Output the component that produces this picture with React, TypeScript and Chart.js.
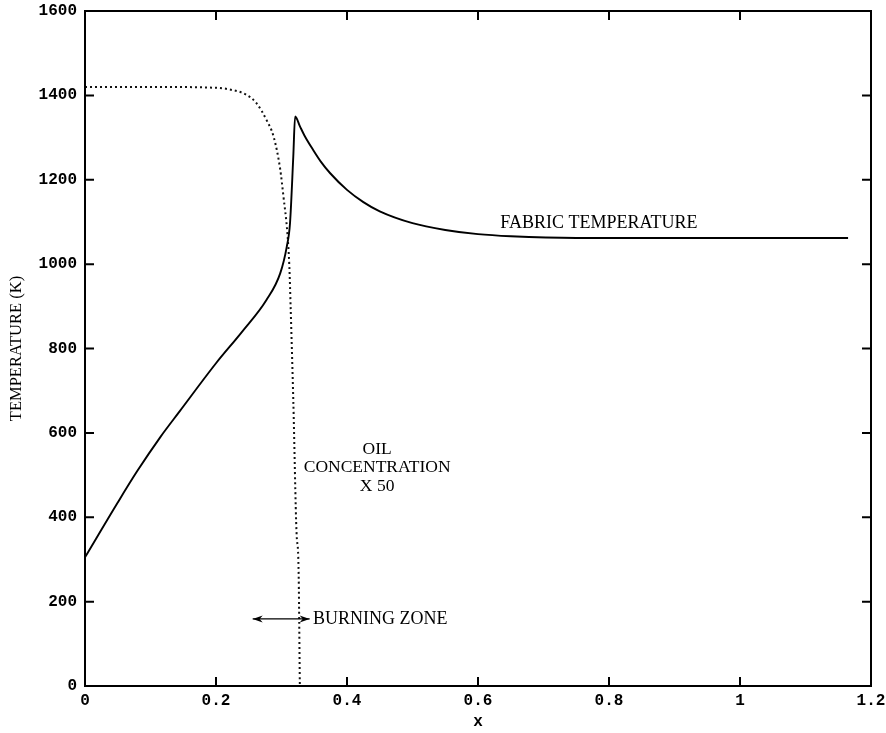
import React, { useEffect, useRef } from "react";
import { Chart, registerables } from "chart.js";

Chart.register(...registerables);

// Fabric temperature (K) vs x
const fabricX = [0, 0.05, 0.08, 0.115, 0.145, 0.2, 0.24, 0.277, 0.298, 0.308, 0.313, 0.318, 0.3208, 0.328, 0.335, 0.349, 0.36, 0.374, 0.4, 0.425, 0.45, 0.5, 0.55, 0.6, 0.65, 0.75, 0.9, 1.05, 1.165];
const fabricT = [305, 435, 510, 590, 652, 765, 840, 915, 978, 1041, 1097, 1255, 1350, 1327, 1305, 1269, 1243, 1216, 1176, 1147, 1125, 1097, 1081, 1071, 1066, 1062, 1062, 1062, 1062];

// Oil concentration x 50 vs x
const oilX = [0, 0.1, 0.2, 0.221, 0.247, 0.262, 0.277, 0.288, 0.298, 0.303, 0.309, 0.312, 0.314, 0.318, 0.323, 0.326, 0.328];
const oilT = [1420, 1420, 1418, 1414, 1401, 1381, 1342, 1302, 1225, 1160, 1073, 994, 895, 678, 362, 283, 0];

const xTicks = [0, 0.2, 0.4, 0.6, 0.8, 1, 1.2];
const xTickLabels = ["0", "0.2", "0.4", "0.6", "0.8", "1", "1.2"];
const yTicks = [0, 200, 400, 600, 800, 1000, 1200, 1400, 1600];

const xTitle = "x";
const yTitle = "TEMPERATURE (K)";

const fabricLabel = { text: "FABRIC TEMPERATURE", x: 0.634, y: 1097 };
const oilLabelLines = ["OIL", "CONCENTRATION", "X 50"];
const oilLabelX = 0.446;
const oilLabelY = [562, 519, 472];
const burningLabel = { text: "BURNING ZONE", x: 0.348, y: 159 };
const burningArrow = { x0: 0.256, x1: 0.343, y: 159 };

const SERIF = "'Liberation Serif', 'Times New Roman', serif";
const MONO = "'Liberation Mono', 'Courier New', monospace";

const framePlugin = {
  id: "frameAndNotes",
  afterDatasetsDraw(chart: any) {
    const { ctx, chartArea, scales } = chart;
    const { left, right, top, bottom } = chartArea;
    const xs = scales.x;
    const ys = scales.y;
    ctx.save();
    ctx.strokeStyle = "#000";
    ctx.lineWidth = 2;
    ctx.strokeRect(left, top, right - left, bottom - top);
    ctx.beginPath();
    const tl = 9;
    xTicks.forEach((v) => {
      if (v <= xTicks[0] || v >= xTicks[xTicks.length - 1]) return;
      const px = xs.getPixelForValue(v);
      ctx.moveTo(px, bottom);
      ctx.lineTo(px, bottom - tl);
      ctx.moveTo(px, top);
      ctx.lineTo(px, top + tl);
    });
    yTicks.forEach((v) => {
      if (v <= yTicks[0] || v >= yTicks[yTicks.length - 1]) return;
      const py = ys.getPixelForValue(v);
      ctx.moveTo(left, py);
      ctx.lineTo(left + tl, py);
      ctx.moveTo(right, py);
      ctx.lineTo(right - tl, py);
    });
    ctx.stroke();

    // annotations
    ctx.fillStyle = "#000";
    ctx.font = "18px " + SERIF;
    ctx.textBaseline = "middle";
    ctx.textAlign = "left";
    ctx.fillText(fabricLabel.text, xs.getPixelForValue(fabricLabel.x), ys.getPixelForValue(fabricLabel.y));
    ctx.fillText(burningLabel.text, xs.getPixelForValue(burningLabel.x), ys.getPixelForValue(burningLabel.y));
    ctx.font = "17.5px " + SERIF;
    ctx.textAlign = "center";
    oilLabelLines.forEach((t, i) => {
      ctx.fillText(t, xs.getPixelForValue(oilLabelX), ys.getPixelForValue(oilLabelY[i]));
    });

    // double arrow
    const ax0 = xs.getPixelForValue(burningArrow.x0);
    const ax1 = xs.getPixelForValue(burningArrow.x1);
    const ay = ys.getPixelForValue(burningArrow.y);
    ctx.lineWidth = 1.3;
    ctx.beginPath();
    ctx.moveTo(ax0, ay);
    ctx.lineTo(ax1, ay);
    ctx.stroke();
    ctx.beginPath();
    ctx.moveTo(ax0, ay);
    ctx.lineTo(ax0 + 10, ay - 3.5);
    ctx.lineTo(ax0 + 7, ay);
    ctx.lineTo(ax0 + 10, ay + 3.5);
    ctx.closePath();
    ctx.moveTo(ax1, ay);
    ctx.lineTo(ax1 - 10, ay - 3.5);
    ctx.lineTo(ax1 - 7, ay);
    ctx.lineTo(ax1 - 10, ay + 3.5);
    ctx.closePath();
    ctx.fill();
    ctx.restore();
  },
};

export default function App() {
  const canvasRef = useRef<HTMLCanvasElement | null>(null);

  useEffect(() => {
    document.body.style.margin = "0";
    const canvas = canvasRef.current;
    if (!canvas) return;
    const chart = new Chart(canvas, {
      type: "line",
      data: {
        datasets: [
          {
            label: "Fabric temperature",
            data: fabricX.map((x, i) => ({ x, y: fabricT[i] })),
            borderColor: "#000",
            borderWidth: 1.9,
            pointRadius: 0,
            fill: false,
            cubicInterpolationMode: "monotone",
          },
          {
            label: "Oil concentration x 50",
            data: oilX.map((x, i) => ({ x, y: oilT[i] })),
            borderColor: "#111",
            borderWidth: 2,
            borderDash: [2, 3],
            pointRadius: 0,
            fill: false,
            cubicInterpolationMode: "monotone",
          },
        ],
      },
      options: {
        responsive: false,
        animation: false,
        layout: { padding: { top: 11, right: 15, left: 0, bottom: 0 } },
        plugins: {
          legend: { display: false },
          tooltip: { enabled: false },
        },
        scales: {
          x: {
            type: "linear",
            min: 0,
            max: 1.2,
            grid: { display: false, drawTicks: false },
            border: { display: false },
            afterBuildTicks: (s: any) => {
              s.ticks = xTicks.map((v) => ({ value: v }));
            },
            afterFit: (s: any) => {
              s.height = 47;
              s.paddingLeft = 0;
              s.paddingRight = 0;
            },
            ticks: {
              autoSkip: false,
              maxRotation: 0,
              padding: 5,
              color: "#000",
              font: { family: MONO, size: 16, weight: "bold" },
              callback: (_v: any, i: number) => xTickLabels[i],
            },
            title: {
              display: true,
              text: xTitle,
              color: "#000",
              font: { family: MONO, size: 16, weight: "bold" },
              padding: { top: 0, bottom: 1 },
            },
          },
          y: {
            type: "linear",
            min: 0,
            max: 1600,
            grid: { display: false, drawTicks: false },
            border: { display: false },
            afterBuildTicks: (s: any) => {
              s.ticks = yTicks.map((v) => ({ value: v }));
            },
            afterFit: (s: any) => {
              s.width = 85;
              s.paddingTop = 0;
              s.paddingBottom = 0;
            },
            ticks: {
              autoSkip: false,
              padding: 8,
              color: "#000",
              font: { family: MONO, size: 16, weight: "bold" },
              callback: (v: any) => String(v),
            },
            title: {
              display: true,
              text: yTitle,
              color: "#000",
              font: { family: SERIF, size: 16.5 },
              padding: { top: 7, bottom: 0 },
            },
          },
        },
      },
      plugins: [framePlugin],
    } as any);
    return () => chart.destroy();
  }, []);

  return (
    <div style={{ width: 886, height: 733, background: "#fff" }}>
      <canvas ref={canvasRef} width={886} height={733} style={{ display: "block" }} />
    </div>
  );
}
